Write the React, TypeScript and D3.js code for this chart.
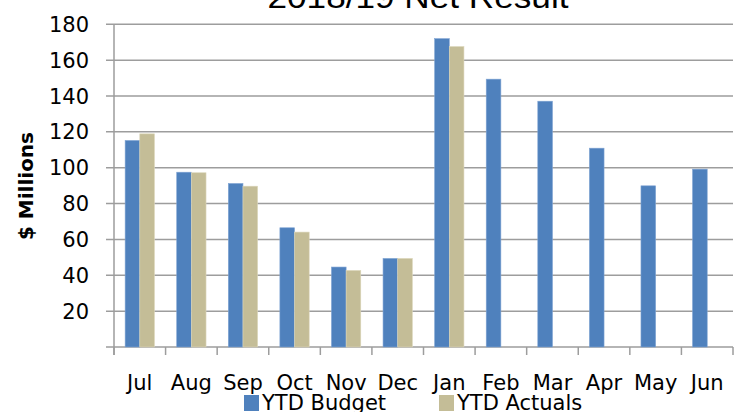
import React from "react";
import * as d3 from "d3";

const months = ["Jul", "Aug", "Sep", "Oct", "Nov", "Dec", "Jan", "Feb", "Mar", "Apr", "May", "Jun"];
const budget = [115.2, 97.5, 91.2, 66.5, 44.6, 49.4, 172.0, 149.4, 137.1, 110.9, 89.9, 99.2];
const actuals: (number | null)[] = [118.9, 97.2, 89.7, 64.1, 42.7, 49.4, 167.6, null, null, null, null, null];
const yTicks = [20, 40, 60, 80, 100, 120, 140, 160, 180];
const seriesNames = ["YTD Budget", "YTD Actuals"];
const colors = ["#4f81bd", "#c4bd97"];

const W = 734, H = 412;
const left = 114, right = 733, top = 24.3, bottom = 347;
const font = "'DejaVu Sans', sans-serif";

export default function App() {
  const x = d3.scaleBand<string>().domain(months).range([left, right]).paddingInner(0).paddingOuter(0);
  const xi = d3.scaleBand<string>().domain(["b", "a"]).range([0, x.bandwidth()]).paddingInner(0).paddingOuter(0.76);
  const y = d3.scaleLinear().domain([0, 180]).range([bottom, top]);
  const boundaries = months.map((m) => x(m)!).concat([right]);
  const grid = "#9d9d9d";

  return (
    <svg width={W} height={H} style={{ position: "absolute", left: 0, top: 0, background: "#fff" }}>
      <rect x={0} y={0} width={W} height={H} fill="#fff" />
      {/* gridlines */}
      {[0, ...yTicks].map((t) => (
        <line key={t} x1={106} x2={right} y1={y(t)} y2={y(t)} stroke={grid} strokeWidth={1.5} />
      ))}
      {/* y axis */}
      <line x1={left} x2={left} y1={top} y2={bottom + 8} stroke={grid} strokeWidth={1.5} />
      {boundaries.map((bx, i) => (
        <line key={i} x1={bx} x2={bx} y1={bottom} y2={bottom + 8} stroke={grid} strokeWidth={1.5} />
      ))}
      {/* bars */}
      {months.map((m, i) => (
        <g key={m}>
          <rect x={x(m)! + xi("b")!} width={xi.bandwidth()} y={y(budget[i])} height={y(0) - y(budget[i])} fill={colors[0]} stroke="#7fa3d3" strokeWidth={0.6} />
          {actuals[i] != null && (
            <rect x={x(m)! + xi("a")!} width={xi.bandwidth()} y={y(actuals[i]!)} height={y(0) - y(actuals[i]!)} fill={colors[1]} stroke="#dcd7bb" strokeWidth={0.6} />
          )}
        </g>
      ))}
      {/* y tick labels */}
      {yTicks.map((t) => (
        <text key={t} x={89} y={y(t)} dy="0.36em" textAnchor="end" fontFamily={font} fontSize={21} fill="#000">
          {t}
        </text>
      ))}
      {/* x labels */}
      {months.map((m) => (
        <text key={m} x={x(m)! + x.bandwidth() / 2} y={390} textAnchor="middle" fontFamily={font} fontSize={21} fill="#000">
          {m}
        </text>
      ))}
      {/* y axis title */}
      <text transform="translate(33,186) rotate(-90)" textAnchor="middle" fontFamily={font} fontSize={20} fontWeight="bold" textLength={108} lengthAdjust="spacingAndGlyphs" fill="#000">
        $ Millions
      </text>
      {/* title */}
      <text x={418} y={8} textAnchor="middle" fontFamily="'Liberation Sans', Arial, sans-serif" fontSize={32} textLength={301} lengthAdjust="spacingAndGlyphs" fill="#000">
        2018/19 Net Result
      </text>
      {/* legend */}
      {seriesNames.map((s, i) => {
        const lx = i === 0 ? 244 : 439;
        return (
          <g key={s}>
            <rect x={lx} y={395} width={15} height={16} fill={colors[i]} />
            <text x={lx + 18} y={410} fontFamily={font} fontSize={21} fill="#000">
              {s}
            </text>
          </g>
        );
      })}
    </svg>
  );
}
